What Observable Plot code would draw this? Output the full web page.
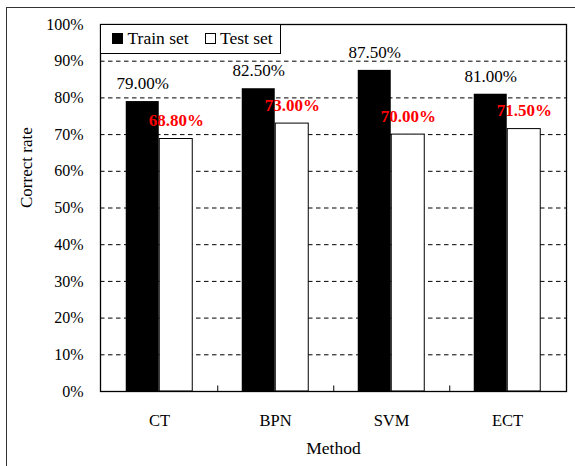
<!DOCTYPE html>
<html>
<head>
<meta charset="utf-8">
<script src="https://cdn.jsdelivr.net/npm/d3@7"></script>
<script src="https://cdn.jsdelivr.net/npm/@observablehq/plot@0.6"></script>
<style>
  html, body { margin: 0; padding: 0; background: #fff; overflow: hidden; }
  #wrap { position: relative; width: 575px; height: 466px; overflow: hidden; font-family: "Liberation Serif", Tinos, "Times New Roman", "DejaVu Serif", serif; }
  #outer { position: absolute; left: 6px; top: 7px; width: 700px; height: 600px; border-left: 1.5px solid #333; border-top: 1.5px solid #333; box-sizing: border-box; }
  #chart { position: absolute; left: 0; top: 0; }
  #chart svg, #chart svg text { font-family: "Liberation Serif", Tinos, "Times New Roman", "DejaVu Serif", serif; }
  #legend { position: absolute; left: 99.5px; top: 23.5px; width: 181px; height: 30px; border: 1px solid #000; background: #fff; box-sizing: border-box; font-size: 17.5px; color: #000; font-family: "Liberation Serif", Tinos, "Times New Roman", "DejaVu Serif", serif; }
  #legend .sw { position: absolute; top: 8.5px; width: 11px; height: 11px; box-sizing: border-box; border: 1px solid #000; }
  #legend .lb { position: absolute; top: 3px; line-height: 20px; white-space: nowrap; }
</style>
</head>
<body>
<div id="wrap">
  <div id="outer"></div>
  <div id="chart"></div>
  <div id="legend"></div>
</div>
<script>
const methods = ["CT", "BPN", "SVM", "ECT"];
const trainValues = [79.0, 82.5, 87.5, 81.0];
const testValues = [68.8, 73.0, 70.0, 71.5];
const seriesNames = ["Train set", "Test set"];
const yTicks = [0, 10, 20, 30, 40, 50, 60, 70, 80, 90, 100];
const gridValues = [10, 20, 30, 40, 50, 60, 70, 80, 90];
const yTitle = "Correct rate";
const xTitle = "Method";

const train = methods.map((m, i) => ({method: m, value: trainValues[i]}));
const test = methods.map((m, i) => ({method: m, value: testValues[i]}));
const fmt = v => v.toFixed(2) + "%";

const bandW = 466 / 4;
const barW = 33.5;
const half = bandW / 2;
const serif = "'Liberation Serif', Tinos, 'Times New Roman', 'DejaVu Serif', serif";

const chart = Plot.plot({
  width: 575,
  height: 466,
  marginLeft: 100,
  marginRight: 9,
  marginTop: 24,
  marginBottom: 75,
  style: {fontFamily: serif, fontSize: "16px", background: "transparent", color: "#000"},
  x: {type: "band", domain: methods, padding: 0},
  y: {domain: [0, 100]},
  marks: [
    Plot.ruleY(gridValues, {stroke: "#000", strokeWidth: 1, strokeDasharray: "4.5,3.5"}),
    Plot.barY(train, {x: "method", y: "value", fill: "#000", insetLeft: half - barW, insetRight: half}),
    Plot.barY(test, {x: "method", y: "value", fill: "#fff", stroke: "#000", strokeWidth: 1, insetLeft: half, insetRight: half - barW}),
    Plot.ruleX(methods.slice(0, 3), {x: d => d, y1: 0, y2: 1.5, dx: half, stroke: "#000", strokeWidth: 1}),
    Plot.text(train, {x: "method", y: "value", text: d => fmt(d.value), dx: -barW / 2, dy: -18, fill: "#000", fontSize: 17, fontFamily: serif}),
    Plot.text(test, {x: "method", y: "value", text: d => fmt(d.value), dx: barW / 2, dy: -18.5, fill: "#ff0000", fontSize: 17, fontWeight: "bold", fontFamily: serif}),
    Plot.axisY({ticks: yTicks, tickFormat: d => d + "%", tickSize: 0, tickPadding: 17, label: null, fontSize: 16, fontFamily: serif}),
    Plot.axisX({tickSize: 0, tickPadding: 23, label: null, fontSize: 16.5, fontFamily: serif}),
    Plot.frame({stroke: "#000", strokeWidth: 1.3}),
    Plot.text([yTitle], {text: d => d, frameAnchor: "left", dx: -74, rotate: -90, fontSize: 17, fill: "#000", fontFamily: serif}),
    Plot.text([xTitle], {text: d => d, frameAnchor: "bottom", dy: 62, fontSize: 17.5, fill: "#000", fontFamily: serif})
  ]
});
document.getElementById("chart").appendChild(chart);

// Legend (HTML overlay inside the plot's top-left corner)
const legend = document.getElementById("legend");
const legendItems = [
  {name: seriesNames[0], fill: "#000", sw: 11, lb: 27},
  {name: seriesNames[1], fill: "#fff", sw: 104.5, lb: 119.5}
];
legendItems.forEach(it => {
  const s = document.createElement("div");
  s.className = "sw";
  s.style.left = it.sw + "px";
  s.style.background = it.fill;
  legend.appendChild(s);
  const l = document.createElement("div");
  l.className = "lb";
  l.style.left = it.lb + "px";
  l.textContent = it.name;
  legend.appendChild(l);
});
</script>
</body>
</html>
